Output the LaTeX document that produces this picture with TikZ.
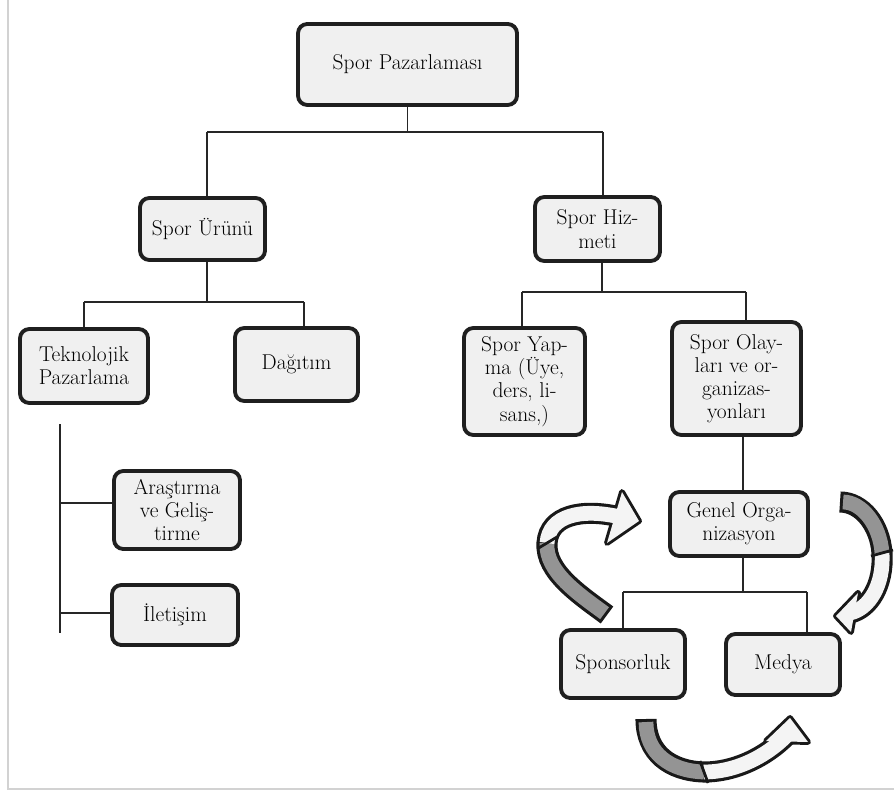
\documentclass[tikz,border=0pt]{standalone}
\usetikzlibrary{calc}
\begin{document}
\begin{tikzpicture}[x=0.03cm,y=-0.03cm,
  box/.style={draw=black!88, line width=3.3pt, fill=gray!12, rounded corners=8pt,
    align=center, inner sep=0pt, text=black,
    font=\fontsize{18.3}{19.8}\selectfont},
  conn/.style={draw=black!85, line width=1.3pt},
  bandout/.style={draw=black!90, line width=18pt, line cap=butt},
  bandin/.style={draw=#1, line width=12.6pt, line cap=butt},
  headout/.style={draw=black!90, line width=5pt, line join=round},
  headfill/.style={fill=gray!9},
  sep/.style={draw=black!90, line width=2.4pt},
  scan/.style={draw=gray!35, line width=1pt}
]
\useasboundingbox (0,0) rectangle (894,793);
% scan border lines
\draw[scan] (8,0) -- (8,789) -- (894,789);

% boxes
\node[box, minimum width=6.57cm, minimum height=2.43cm] (top) at (407.5,64.5) {Spor Pazarlaması};
\node[box, minimum width=3.75cm, minimum height=1.86cm] (uru) at (202.5,229) {Spor Ürünü};
\node[box, minimum width=3.75cm, minimum height=1.92cm] (hiz) at (597.5,229) {Spor Hiz-\\meti};
\node[box, minimum width=3.84cm, minimum height=2.22cm] (tek) at (84,366) {Teknolojik\\Pazarlama};
\node[box, minimum width=3.69cm, minimum height=2.19cm] (dag) at (296.5,364.5) {Dağıtım};
\node[box, minimum width=3.63cm, minimum height=3.21cm] (yap) at (524.5,381.5) {Spor Yap-\\ma (Üye,\\ders, li-\\sans,)};
\node[box, minimum width=3.87cm, minimum height=3.39cm] (ola) at (736.5,378.5) {Spor Olay-\\ları ve or-\\ganizas-\\yonları};
\node[box, minimum width=3.78cm, minimum height=2.34cm] (ars) at (177,510) {Araştırma\\ve Geliş-\\tirme};
\node[box, minimum width=3.78cm, minimum height=1.80cm] (ile) at (175,615) {İletişim};
\node[box, minimum width=4.14cm, minimum height=1.92cm] (gen) at (739,524) {Genel Orga-\\nizasyon};
\node[box, minimum width=3.72cm, minimum height=2.04cm] (spo) at (623,664) {Sponsorluk};
\node[box, minimum width=3.42cm, minimum height=1.83cm] (med) at (783,664.5) {Medya};

% connectors level 1
\coordinate (a1) at (207,132); \coordinate (a2) at (603,132);
\draw[conn] (top.south) -- (top.south |- a1);
\draw[conn] (a1) -- (a2);
\draw[conn] (a1) -- (a1 |- uru.north);
\draw[conn] (a2) -- (a2 |- hiz.north);
% Spor Urunu children
\coordinate (b0) at (207,302); \coordinate (b1) at (84,302); \coordinate (b2) at (304,302);
\draw[conn] (b0 |- uru.south) -- (b0);
\draw[conn] (b1) -- (b2);
\draw[conn] (b1) -- (b1 |- tek.north);
\draw[conn] (b2) -- (b2 |- dag.north);
% Spor Hizmeti children
\coordinate (c0) at (602,292); \coordinate (c1) at (522,292); \coordinate (c2) at (746,292);
\draw[conn] (c0 |- hiz.south) -- (c0);
\draw[conn] (c1) -- (c2);
\draw[conn] (c1) -- (c1 |- yap.north);
\draw[conn] (c2) -- (c2 |- ola.north);
% Spor Olaylari -> Genel
\coordinate (d0) at (743,460);
\draw[conn] (d0 |- ola.south) -- (d0 |- gen.north);
% Genel children
\coordinate (e0) at (743,592); \coordinate (e1) at (623,592); \coordinate (e2) at (807,592);
\draw[conn] (e0 |- gen.south) -- (e0);
\draw[conn] (e1) -- (e2);
\draw[conn] (e1) -- (e1 |- spo.north);
\draw[conn] (e2) -- (e2 |- med.north);
% Teknolojik side list
\coordinate (f0) at (60,424); \coordinate (f1) at (60,633);
\coordinate (g1) at (60,503); \coordinate (g2) at (60,613);
\draw[conn] (f0) -- (f1);
\draw[conn] (g1) -- (g1 -| ars.west);
\draw[conn] (g2) -- (g2 -| ile.west);

% ribbon arrow 1 (Sponsorluk -> Genel Organizasyon)
\draw[bandout] (607,615) .. controls (580,595) and (545,572) .. (547,543)
               .. controls (549,515) and (582,508) .. (620,517);
\draw[headout] (622,492) -- (639,521) -- (607,543) -- cycle;
\draw[bandin=black!42, shorten <=2.6pt] (607,615) .. controls (580,595) and (545,572) .. (547,543);
\draw[bandin=gray!9] (547,543) .. controls (549,515) and (582,508) .. (620,517);
\fill[headfill] (622,492) -- (639,521) -- (607,543) -- cycle;
\draw[sep] (537,549) -- (557,537);

% ribbon arrow 2 (Genel Organizasyon -> Medya)
\draw[bandout] (840,502) .. controls (862,502) and (880,525) .. (882,553)
               .. controls (884,585) and (869,609) .. (850,613);
\draw[headout] (858,593) -- (836,616) -- (851,632) -- cycle;
\draw[bandin=black!42, shorten <=2.6pt] (840,502) .. controls (862,502) and (880,525) .. (882,553);
\draw[bandin=gray!9] (882,553) .. controls (884,585) and (869,609) .. (850,613);
\fill[headfill] (858,593) -- (836,616) -- (851,632) -- cycle;
\draw[sep] (871,556) -- (893,550);

% ribbon arrow 3 (Sponsorluk -> Medya)
\draw[bandout] (646,719) .. controls (646,753) and (670,771) .. (704,772)
               .. controls (740,772) and (772,752) .. (789,733);
\draw[headout] (766,741) -- (790,718) -- (808,742) -- cycle;
\draw[bandin=black!42, shorten <=2.6pt] (646,719) .. controls (646,753) and (670,771) .. (704,772);
\draw[bandin=gray!9] (704,772) .. controls (740,772) and (772,752) .. (789,733);
\fill[headfill] (766,741) -- (790,718) -- (808,742) -- cycle;
\draw[sep] (700,761) -- (708,783);
\end{tikzpicture}
\end{document}
